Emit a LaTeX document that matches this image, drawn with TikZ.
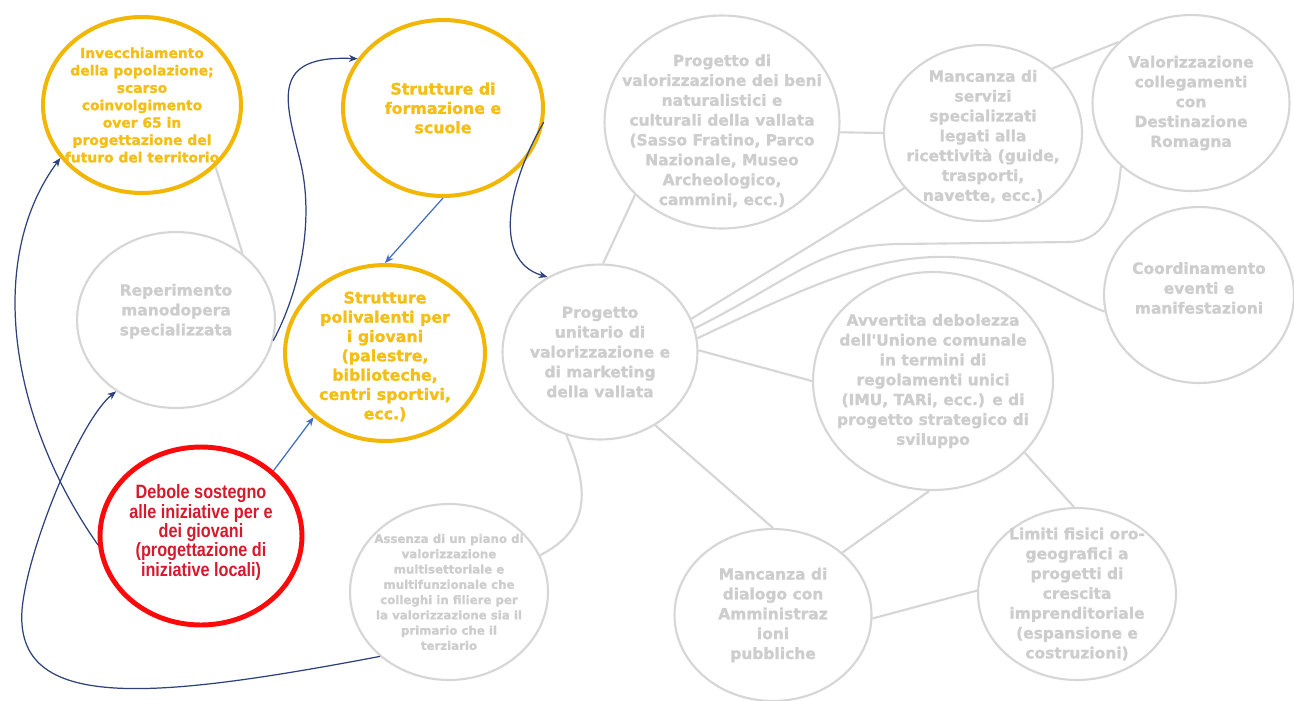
\documentclass[tikz,border=0pt]{standalone}
\usepackage{fontspec}
\setmainfont{Liberation Sans}
\newfontfamily\heavyfont{DejaVu Sans}[BoldFeatures={FakeBold=1.2}]
\newfontfamily\narrowfont{Liberation Sans}[FakeStretch=0.84]
\usetikzlibrary{
  shapes.geometric,
  arrows.meta}
\definecolor{bubblegray}{RGB}{214,214,214}
\definecolor{greytextcolor}{RGB}{205,205,205}
\definecolor{keyyellow}{RGB}{242,183,5}
\definecolor{keytextyellow}{RGB}{244,190,20}
\definecolor{problemred}{RGB}{250,10,10}
\definecolor{problemtext}{RGB}{215,25,45}
\definecolor{linknavy}{RGB}{45,65,125}
\definecolor{linkblue}{RGB}{68,110,190}
\tikzset{
  %% bubble : a context factor (grey)
  bubble/.style={
    ellipse,
    draw=bubblegray,
    line width=1.2pt,
    minimum width=3.96cm,
    minimum height=3.52cm,
    inner sep=0pt
  },
  %% keybubble : a factor linked to the problem (yellow)
  keybubble/.style={
    bubble,
    draw=keyyellow,
    line width=2.3pt
  },
  %% redbubble : the core problem
  redbubble/.style={
    bubble,
    draw=problemred,
    line width=2.8pt,
    minimum width=4.04cm,
    minimum height=3.56cm
  },
  %% greytext : text of a grey bubble
  greytext/.style={
    text=greytextcolor,
    font=\heavyfont\bfseries\fontsize{8.8}{11.3}\selectfont,
    align=center,
    inner sep=0pt
  },
  %% yellowtext : text of a yellow bubble
  yellowtext/.style={
    greytext,
    text=keytextyellow,
    font=\heavyfont\bfseries\fontsize{9}{11}\selectfont
  },
  %% redtext : text of the red bubble
  redtext/.style={
    greytext,
    text=problemtext,
    font=\narrowfont\bfseries\fontsize{11}{11}\selectfont
  },
  %% link : plain grey connection
  link/.style={bubblegray, line width=1.2pt},
  %% influence : blue arrow
  influence/.style={linknavy, line width=0.7pt,
    -{Stealth[length=5pt,width=4pt]}},
  lightinfluence/.style={influence, linkblue}
}

\begin{document}
\begin{tikzpicture}
  [x=0.02cm,
  y=-0.02cm]

  \path [use as bounding box, fill=white] (0,0) rectangle (1294,700);

  %% Left side: youth and population
  \node (invec) [keybubble] at (142,105) {};
  \node (invec-t) [yellowtext, font=\heavyfont\bfseries\fontsize{7.9}{9.9}\selectfont]
  at (invec) {%
    Invecchiamento\\della popolazione;\\scarso\\coinvolgimento\\over 65 in\\
    progettazione del\\futuro del territorio};

  \node (formaz) [keybubble, minimum width=4cm] at (443,108) {};
  \node (formaz-t) [yellowtext] at (formaz) {%
    Strutture di\\formazione e\\scuole};

  \node (polival) [keybubble, minimum width=4cm] at (385,353) {};
  \node (polival-t) [yellowtext, yshift=-2pt] at (polival) {%
    Strutture\\polivalenti per\\i giovani\\(palestre,\\biblioteche,\\
    centri sportivi,\\ecc.)};

  \node (reper) [bubble] at (176,320) {};
  \node (reper-t) [greytext, yshift=5pt] at (reper) {%
    Reperimento\\manodopera\\specializzata};

  \node (debole) [redbubble] at (201,536) {};
  \node (debole-t) [redtext, yshift=2pt] at (debole) {%
    Debole sostegno\\alle iniziative per e\\dei giovani\\(progettazione di\\
    iniziative locali)};

  \node (assenza) [bubble] at (449,592) {};
  \node (assenza-t) [greytext, font=\heavyfont\bfseries\fontsize{6.7}{8.7}\selectfont]
  at (assenza) {%
    Assenza di un piano di\\valorizzazione\\multisettoriale e\\multifunzionale che\\
    colleghi in filiere per\\la valorizzazione sia il\\primario che il\\terziario};

  %% Centre and right side
  \node (unitario) [bubble, minimum width=3.9cm, minimum height=3.5cm] at (600,352) {};
  \node (unitario-t) [greytext] at (unitario) {%
    Progetto\\unitario di\\valorizzazione e\\di marketing\\della vallata};

  \node (beni) [bubble, minimum width=4.7cm, minimum height=4.26cm] at (722,122) {};
  \node (beni-t) [greytext, yshift=-5pt] at (beni) {%
    Progetto di\\valorizzazione dei beni\\naturalistici e\\culturali della vallata\\
    (Sasso Fratino, Parco\\Nazionale, Museo\\Archeologico,\\cammini, ecc.)};

  \node (servizi) [bubble] at (983,133) {};
  \node (servizi-t) [greytext, yshift=-2pt] at (servizi) {%
    Mancanza di\\servizi\\specializzati\\legati alla\\ricettività (guide,\\
    trasporti,\\navette, ecc.)};

  \node (collegam) [bubble, minimum width=3.94cm] at (1191,103) {};
  \node (collegam-t) [greytext] at (collegam) {%
    Valorizzazione\\collegamenti\\con\\Destinazione\\Romagna};

  \node (coord) [bubble, minimum width=3.8cm] at (1199,295) {};
  \node (coord-t) [greytext, yshift=4pt] at (coord) {%
    Coordinamento\\eventi e\\manifestazioni};

  \node (avvert) [bubble, minimum width=4.8cm, minimum height=4.36cm] at (933,381) {};
  \node (avvert-t) [greytext] at (avvert) {%
    Avvertita debolezza\\dell'Unione comunale\\in termini di\\regolamenti unici\\
    (IMU, TARi, ecc.) e di\\progetto strategico di\\sviluppo};

  \node (dialogo) [bubble, minimum width=3.94cm, minimum height=3.44cm] at (773,615) {};
  \node (dialogo-t) [greytext] at (dialogo) {%
    Mancanza di\\dialogo con\\Amministraz\\ioni\\pubbliche};

  \node (limiti) [bubble, minimum height=3.44cm] at (1077,594) {};
  \node (limiti-t) [greytext] at (limiti) {%
    Limiti fisici oro-\\geografici a\\progetti di\\crescita\\imprenditoriale\\
    (espansione e\\costruzioni)};

  %% Grey connections
  \draw [link] (invec.-40) -- (reper.45);
  \draw [link] (beni.-5) -- (servizi.180);
  \draw [link] (beni.-140) -- (unitario.88);
  \draw [link] (servizi.-145) -- (unitario.20);
  \draw [link] (servizi.43) -- (collegam.140);
  \draw [link] (unitario.14) .. controls (800,275) and (820,245) .. (900,244)
  -- (1070,242) .. controls (1110,240) and (1118,200) .. (collegam.-138);
  \draw [link] (unitario.8) .. controls (820,280) and (880,255) .. (950,257)
  .. controls (1020,260) and (1060,295) .. (coord.-170);
  \draw [link] (unitario.1) -- (avvert.180);
  \draw [link] (unitario.-112) .. controls (590,490) and (590,530) .. (assenza.22);
  \draw [link] (unitario.-53) -- (dialogo.90);
  \draw [link] (avvert.-92) -- (dialogo.42);
  \draw [link] (avvert.-38) -- (limiti.92);
  \draw [link] (dialogo.-2) -- (limiti.178);

  %% Blue arrows
  \draw [influence] (debole.185) .. controls (10,420) and (-15,260) .. (invec.-147);
  \draw [lightinfluence] (debole.42) -- (polival.-138);
  \draw [influence] (assenza.-137) .. controls (150,700) and (15,712) .. (22,610)
  .. controls (27,550) and (80,420) .. (reper.-130);
  \draw [influence] (reper.-12) .. controls (300,290) and (315,220) .. (300,160)
  .. controls (285,100) and (270,55) .. (formaz.150);
  \draw [lightinfluence] (formaz.south) -- (polival.north);
  \draw [influence] (formaz.-8) .. controls (510,180) and (490,260) .. (unitario.125);

\end{tikzpicture}
\end{document}
